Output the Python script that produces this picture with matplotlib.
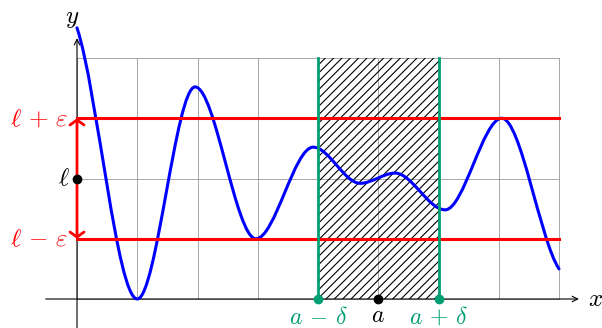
import numpy as np
import matplotlib
matplotlib.use("Agg")
import matplotlib.pyplot as plt
from matplotlib.path import Path
from matplotlib.patches import PathPatch, Rectangle

plt.rcParams['mathtext.fontset'] = 'cm'
plt.rcParams['hatch.linewidth'] = 0.8

# Curve knots (extrema) and their slopes
knot_x = [0.0, 1.0, 1.96, 2.97, 3.92, 4.7, 5.28, 6.11, 7.05, 8.0]
knot_y = [4.5, 0.0, 3.52, 1.0, 2.52, 1.92, 2.09, 1.48, 3.0, 0.5]
knot_slope = [-3.0, 0, 0, 0, 0, 0, 0, 0, 0, -1.5]

ell = 2.0
eps = 1.0
a = 5.0
delta = 1.0
grid_x = list(range(0, 9))
grid_y = list(range(0, 5))

blue = '#0000ff'
red = '#ff0000'
green = '#009E73'

fig = plt.figure(figsize=(6.02, 3.28), dpi=100)
ax = fig.add_axes([0, 0, 1, 1])
ax.set_xlim(-77 / 60.25, (602 - 77) / 60.25)
ax.set_ylim((299 - 328) / 60.25, 299 / 60.25)
ax.axis('off')

# grid
for gx in grid_x:
    ax.plot([gx, gx], [grid_y[0], grid_y[-1]], color='#999999', lw=0.6, zorder=1)
for gy in grid_y:
    ax.plot([grid_x[0], grid_x[-1]], [gy, gy], color='#999999', lw=0.6, zorder=1)

# hatched region
ax.add_patch(Rectangle((a - delta, 0), 2 * delta, grid_y[-1], facecolor='none',
                       edgecolor='black', hatch='////', lw=0, zorder=2))

# axes with arrows
ax.annotate('', xy=(8.33, 0), xytext=(-0.52, 0),
            arrowprops=dict(arrowstyle='->', lw=0.8, color='black',
                            shrinkA=0, shrinkB=0, mutation_scale=10), zorder=3)
ax.annotate('', xy=(0, 4.33), xytext=(0, -0.5),
            arrowprops=dict(arrowstyle='->', lw=0.8, color='black',
                            shrinkA=0, shrinkB=0, mutation_scale=10), zorder=3)
ax.text(8.6, 0, '$x$', fontsize=18, ha='center', va='center')
ax.text(-0.08, 4.66, '$y$', fontsize=18, ha='center', va='center')

# smooth curve through knots (cubic Bezier / Hermite)
verts = [(knot_x[0], knot_y[0])]
codes = [Path.MOVETO]
for i in range(len(knot_x) - 1):
    x0, y0, m0 = knot_x[i], knot_y[i], knot_slope[i]
    x1, y1, m1 = knot_x[i + 1], knot_y[i + 1], knot_slope[i + 1]
    d = (x1 - x0) / 3.0
    verts += [(x0 + d, y0 + m0 * d), (x1 - d, y1 - m1 * d), (x1, y1)]
    codes += [Path.CURVE4] * 3
ax.add_patch(PathPatch(Path(verts, codes), facecolor='none', edgecolor=blue,
                       lw=2.2, zorder=4, capstyle='round'))

# red lines
for yy in (ell + eps, ell - eps):
    ax.plot([0, grid_x[-1]], [yy, yy], color=red, lw=2.2, zorder=5)
ax.annotate('', xy=(0, ell + eps), xytext=(0, ell - eps),
            arrowprops=dict(arrowstyle='<->,head_length=0.3,head_width=0.42',
                            lw=2.0, color=red,
                            shrinkA=0, shrinkB=0, mutation_scale=12), zorder=5)
ax.text(-0.14, ell + eps, r'$\ell\,+\,\varepsilon$', color=red, fontsize=18,
        ha='right', va='center')
ax.text(-0.14, ell - eps, r'$\ell\,-\,\varepsilon$', color=red, fontsize=18,
        ha='right', va='center')
ax.text(-0.12, ell, r'$\ell$', color='black', fontsize=18, ha='right', va='center')
ax.plot([0], [ell], 'o', color='black', ms=6, zorder=7)

# green delta bounds
for xx in (a - delta, a + delta):
    ax.plot([xx, xx], [0, grid_y[-1]], color=green, lw=2.0, zorder=6)
    ax.plot([xx], [0], 'o', color=green, ms=6, zorder=7)
ax.plot([a], [0], 'o', color='black', ms=6, zorder=7)
ax.text(a - delta, -0.30, r'$a\,-\,\delta$', color=green, fontsize=17, ha='center', va='center')
ax.text(a, -0.26, r'$a$', color='black', fontsize=17, ha='center', va='center')
ax.text(a + delta, -0.30, r'$a\,+\,\delta$', color=green, fontsize=17, ha='center', va='center')

fig.savefig('out.png', dpi=100)
